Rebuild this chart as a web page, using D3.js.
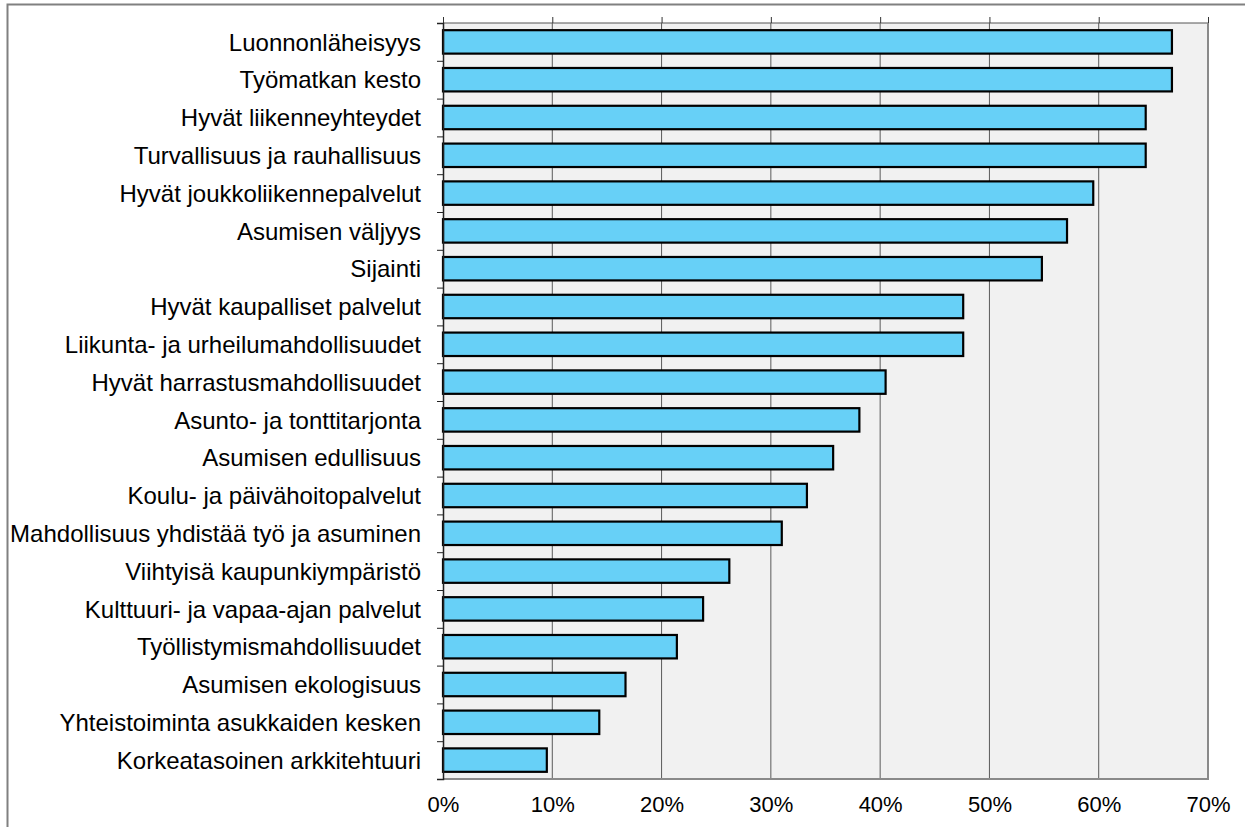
<!DOCTYPE html>
<html>
<head>
<meta charset="utf-8">
<script src="https://cdn.jsdelivr.net/npm/d3@7"></script>
<style>
  html, body { margin: 0; padding: 0; background: #fff; }
  svg { display: block; font-family: "Liberation Sans", Arial, Helvetica, sans-serif; }
</style>
</head>
<body>
<svg id="chart" width="1245" height="827"></svg>
<script>
// Tekijät, jotka vaikuttavat asuinpaikan valintaan (osuus vastaajista)
const categories = [
  "Luonnonläheisyys",
  "Työmatkan kesto",
  "Hyvät liikenneyhteydet",
  "Turvallisuus ja rauhallisuus",
  "Hyvät joukkoliikennepalvelut",
  "Asumisen väljyys",
  "Sijainti",
  "Hyvät kaupalliset palvelut",
  "Liikunta- ja urheilumahdollisuudet",
  "Hyvät harrastusmahdollisuudet",
  "Asunto- ja tonttitarjonta",
  "Asumisen edullisuus",
  "Koulu- ja päivähoitopalvelut",
  "Mahdollisuus yhdistää työ ja asuminen",
  "Viihtyisä kaupunkiympäristö",
  "Kulttuuri- ja vapaa-ajan palvelut",
  "Työllistymismahdollisuudet",
  "Asumisen ekologisuus",
  "Yhteistoiminta asukkaiden kesken",
  "Korkeatasoinen arkkitehtuuri"
];
const values = [
  0.667, 0.667, 0.643, 0.643, 0.595, 0.571, 0.548, 0.476, 0.476, 0.405,
  0.381, 0.357, 0.333, 0.310, 0.262, 0.238, 0.214, 0.167, 0.143, 0.095
];
const xTicks = [0, 0.1, 0.2, 0.3, 0.4, 0.5, 0.6, 0.7];

const svg = d3.select("#chart");
const W = 1245, H = 827;
const m = { left: 443, top: 23, right: W - 1208, bottom: H - 779 };
const iw = W - m.left - m.right, ih = H - m.top - m.bottom;

// Outer frame (only top and left edges fall inside the canvas)
svg.append("path")
  .attr("d", `M7.5,${H} V4.5 H${W}`)
  .attr("fill", "none").attr("stroke", "#808080").attr("stroke-width", 2);

const g = svg.append("g").attr("transform", `translate(${m.left},${m.top})`);

const x = d3.scaleLinear().domain([0, 0.7]).range([0, iw]);
const y = d3.scaleBand().domain(categories).range([0, ih]).paddingInner(0.38).paddingOuter(0.19);
const yEdge = d3.scaleLinear().domain([0, categories.length]).range([0, ih]);

// Plot background
g.append("rect").attr("width", iw).attr("height", ih).attr("fill", "#f1f1f1");

// Vertical gridlines
g.append("g").selectAll("line").data(xTicks.slice(1, -1)).join("line")
  .attr("x1", d => x(d)).attr("x2", d => x(d))
  .attr("y1", 0).attr("y2", ih)
  .attr("stroke", "#5a5a5a").attr("stroke-width", 1);

// Plot border: top thin, right and bottom grey
g.append("line").attr("x1", 0).attr("x2", iw).attr("y1", 0).attr("y2", 0)
  .attr("stroke", "#555").attr("stroke-width", 1);
g.append("path").attr("d", `M${iw},0 V${ih} H0`)
  .attr("fill", "none").attr("stroke", "#8a8a8a").attr("stroke-width", 2);

// Top axis: tick marks only
const topAxis = g.append("g")
  .call(d3.axisTop(x).tickValues(xTicks).tickSize(6).tickFormat(""));
topAxis.select(".domain").remove();
topAxis.selectAll("line").attr("stroke", "#333");

// Bottom axis: percentage labels
const botAxis = g.append("g").attr("transform", `translate(0,${ih})`)
  .call(d3.axisBottom(x).tickValues(xTicks).tickSize(0).tickPadding(17)
    .tickFormat(d3.format(".0%")));
botAxis.select(".domain").remove();
botAxis.selectAll("text").attr("font-size", 22).attr("fill", "#000")
  .attr("font-family", "Liberation Sans, Arial, sans-serif");

// Bars
g.append("g").selectAll("rect").data(values).join("rect")
  .attr("x", x(0))
  .attr("y", (d, i) => y(categories[i]))
  .attr("width", d => x(d) - x(0))
  .attr("height", y.bandwidth())
  .attr("fill", "#67d0f7")
  .attr("stroke", "#000").attr("stroke-width", 2.2);

// Left axis: boundary ticks between categories
const edgeAxis = g.append("g")
  .call(d3.axisLeft(yEdge).ticks(categories.length).tickSize(6).tickFormat(""));
edgeAxis.select(".domain").attr("stroke", "#222").attr("stroke-width", 1.5);
edgeAxis.selectAll("line").attr("stroke", "#222");

// Category labels
const labAxis = g.append("g")
  .call(d3.axisLeft(y).tickSize(0).tickPadding(22));
labAxis.select(".domain").remove();
labAxis.selectAll("text").attr("font-size", 24).attr("fill", "#000")
  .attr("font-family", "Liberation Sans, Arial, sans-serif")
  .attr("dy", "0.36em");
</script>
</body>
</html>
